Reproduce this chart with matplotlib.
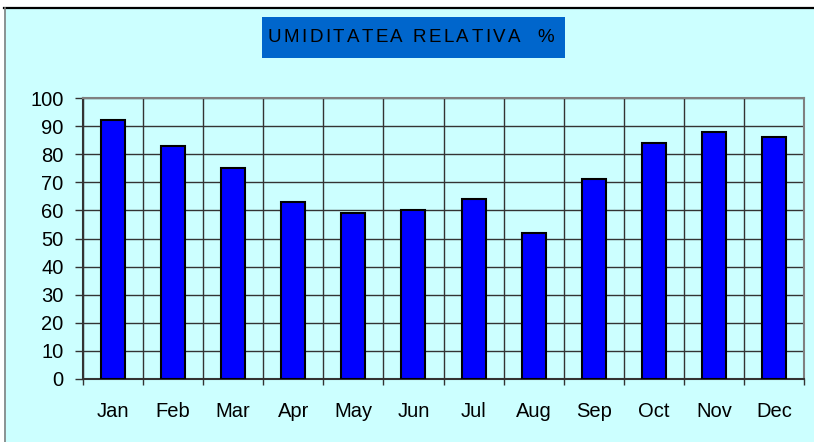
import matplotlib.pyplot as plt
import numpy as np
from matplotlib.patches import Rectangle
from matplotlib.lines import Line2D

months = ['Jan', 'Feb', 'Mar', 'Apr', 'May', 'Jun', 'Jul', 'Aug', 'Sep', 'Oct', 'Nov', 'Dec']
umiditate = [92, 83, 75, 63, 59, 60, 64, 52, 71, 84, 88, 86]
titlu = 'UMIDITATEA RELATIVA  %'

plt.rcParams['font.family'] = ['Liberation Sans', 'DejaVu Sans']

W, H = 814, 442
fig = plt.figure(figsize=(W / 100, H / 100), dpi=100, facecolor='white')

# fundal cyan si rama
fig.patches.append(Rectangle((4 / W, 0), 1 - 4 / W, 1 - 9 / H, transform=fig.transFigure,
                             facecolor='#CCFFFF', edgecolor='none', zorder=-10))
fig.lines.append(Line2D([4 / W, 1], [1 - 8 / H, 1 - 8 / H], transform=fig.transFigure,
                        color='black', lw=1.6))
fig.lines.append(Line2D([4.5 / W, 4.5 / W], [0, 1 - 8 / H], transform=fig.transFigure,
                        color='#808080', lw=1.2))

# caseta titlului
fig.patches.append(Rectangle((262 / W, 1 - 58 / H), 303 / W, 41 / H, transform=fig.transFigure,
                             facecolor='#0066CC', edgecolor='none', zorder=1))

# titlul cu spatiere intre litere (ca in Excel)
renderer = fig.canvas.get_renderer()
fs_titlu = 13.5
track = 2.4
widths = []
for ch in titlu:
    t = fig.text(0, 0, ch if ch != ' ' else 'a a', fontsize=fs_titlu)
    w = t.get_window_extent(renderer).width
    if ch == ' ':
        t2 = fig.text(0, 0, 'aa', fontsize=fs_titlu)
        w = w - t2.get_window_extent(renderer).width
        t2.remove()
    t.remove()
    widths.append(w)
total = sum(widths) + track * (len(titlu) - 1)
xpos = 411 - total / 2
for ch, w in zip(titlu, widths):
    fig.text(xpos / W, 1 - 37.5 / H, ch, ha='left', va='center', fontsize=fs_titlu,
             color='black', zorder=2)
    xpos += w + track

ax = fig.add_axes([83 / W, 1 - 379 / H, 721 / W, 281 / H])
ax.set_facecolor('#CCFFFF')

x = np.arange(len(months))
ax.bar(x, umiditate, 0.4, color='#0000FF', edgecolor='black', linewidth=1.5, zorder=3)

ax.set_xlim(-0.5, len(months) - 0.5)
ax.set_ylim(0, 100)
ax.set_yticks(range(0, 101, 10))
ax.set_xticks(x)
ax.set_xticklabels(months)
ax.set_xticks(np.arange(-0.5, len(months)), minor=True)

ax.tick_params(axis='x', which='major', length=0, pad=16.5, labelsize=14.5)
ax.tick_params(axis='x', which='minor', length=4.5, width=1, color='#333333', direction='out')
ax.tick_params(axis='y', length=6, width=1, color='#333333', pad=8, labelsize=14.5)

ax.grid(axis='y', which='major', color='#333333', lw=1, zorder=1)
ax.grid(axis='x', which='minor', color='#333333', lw=1, zorder=1)
ax.set_axisbelow(True)

for s in ax.spines.values():
    s.set_color('#808080')
    s.set_linewidth(1.5)
ax.spines['bottom'].set_color('#333333')
ax.spines['left'].set_color('#333333')

fig.savefig('out.png', dpi=100, facecolor=fig.get_facecolor())
